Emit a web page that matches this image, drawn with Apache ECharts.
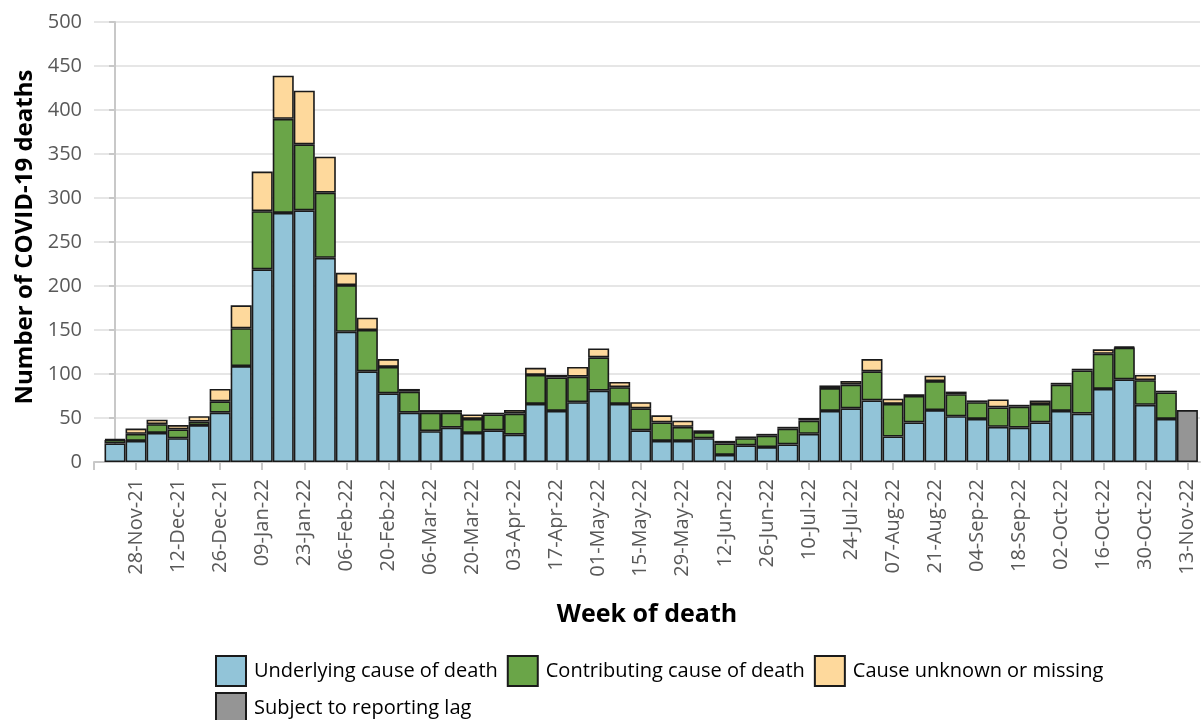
<!DOCTYPE html>
<html>
<head>
<meta charset="utf-8">
<script src="https://cdn.jsdelivr.net/npm/echarts@6/dist/echarts.min.js"></script>
<style>
html,body{margin:0;padding:0;background:#fff;}
#chart{width:1201px;height:720px;}
</style>
</head>
<body>
<div id="chart"></div>
<script>
var weeks = ['21-Nov-21','28-Nov-21','05-Dec-21','12-Dec-21','19-Dec-21','26-Dec-21','02-Jan-22','09-Jan-22','16-Jan-22','23-Jan-22','30-Jan-22','06-Feb-22','13-Feb-22','20-Feb-22','27-Feb-22','06-Mar-22','13-Mar-22','20-Mar-22','27-Mar-22','03-Apr-22','10-Apr-22','17-Apr-22','24-Apr-22','01-May-22','08-May-22','15-May-22','22-May-22','29-May-22','05-Jun-22','12-Jun-22','19-Jun-22','26-Jun-22','03-Jul-22','10-Jul-22','17-Jul-22','24-Jul-22','31-Jul-22','07-Aug-22','14-Aug-22','21-Aug-22','28-Aug-22','04-Sep-22','11-Sep-22','18-Sep-22','25-Sep-22','02-Oct-22','09-Oct-22','16-Oct-22','23-Oct-22','30-Oct-22','06-Nov-22','13-Nov-22'];

var underlying = [21,24,33,27,42,56,109,219,283,286,232,148,103,78,56,35,39,33,36,31,66,58,68,81,66,36,24,24,27,8,19,17,20,32,58,61,70,29,45,59,52,49,40,39,45,58,55,83,94,65,49,null];
var contributing = [4,8,10,10,4,13,43,66,107,75,74,53,47,30,24,21,17,16,18,24,33,38,29,38,19,25,21,16,7,13,8,13,18,15,26,27,33,37,30,33,25,19,22,24,21,30,49,40,36,28,30,null];
var unknown = [1,6,5,5,6,14,26,45,49,61,41,14,14,9,3,3,3,5,2,4,8,3,11,10,6,7,8,7,2,3,2,2,2,3,3,4,14,6,2,6,3,2,9,2,4,2,2,5,1,6,2,null];
var reportingLag = [null,null,null,null,null,null,null,null,null,null,null,null,null,null,null,null,null,null,null,null,null,null,null,null,null,null,null,null,null,null,null,null,null,null,null,null,null,null,null,null,null,null,null,null,null,null,null,null,null,null,null,59];

var yTicks = [0,50,100,150,200,250,300,350,400,450,500];

var seriesNames = ['Underlying cause of death','Contributing cause of death','Cause unknown or missing','Subject to reporting lag'];
var seriesColors = ['#92C4D8','#6AA548','#FED99C','#959595'];

// value first, week index second (so the value dimension is the one stacked)
function toPts(arr){ return arr.map(function(v,i){ return [v, i]; }); }

var chart = echarts.init(document.getElementById('chart'), null, {renderer:'canvas'});
var labelFont = '"Open Sans", "DejaVu Sans", sans-serif';

var series = [underlying, contributing, unknown, reportingLag].map(function(arr, k){
  return {
    name: seriesNames[k],
    type: 'bar',
    stack: 'total',
    barWidth: '100%',
    encode: {x: 1, y: 0},
    data: toPts(arr),
    itemStyle: {color: seriesColors[k], borderColor: '#1a1a1a', borderWidth: 1.6},
    emphasis: {disabled: true}
  };
});

var legendCommon = {
  orient: 'horizontal',
  icon: 'rect',
  padding: 0,
  itemWidth: 30,
  itemHeight: 30,
  itemGap: 9,
  textStyle: {fontFamily: labelFont, fontSize: 20, color: '#000', padding: [0,0,0,3]},
  selectedMode: false
};

chart.setOption({
  animation: false,
  backgroundColor: '#fff',
  grid: {left: 94, right: 1, top: 22, bottom: 258, containLabel: false},
  legend: [
    Object.assign({}, legendCommon, {left: 215, top: 655, data: seriesNames.slice(0,3)}),
    Object.assign({}, legendCommon, {left: 215, top: 692, data: seriesNames.slice(3)})
  ],
  xAxis: {
    type: 'value',
    min: -1,
    max: 51.6,
    interval: 2,
    name: 'Week of death',
    nameLocation: 'middle',
    nameGap: 140,
    nameTextStyle: {fontFamily: labelFont, fontWeight: 'bold', fontSize: 25, color: '#000'},
    axisLine: {show: true, lineStyle: {color: '#c8c8c8', width: 2}},
    axisTick: {show: true, length: 8, lineStyle: {color: '#c8c8c8', width: 2}},
    splitLine: {show: false},
    axisLabel: {
      rotate: 90,
      margin: 17,
      fontFamily: labelFont,
      fontSize: 20,
      color: '#595959',
      showMinLabel: true,
      showMaxLabel: false,
      formatter: function(v){ var i = Math.round(v); return (i >= 0 && i < weeks.length) ? weeks[i] : ''; }
    }
  },
  yAxis: {
    type: 'value',
    min: yTicks[0],
    max: yTicks[yTicks.length-1],
    interval: 50,
    name: 'Number of COVID-19 deaths',
    nameLocation: 'middle',
    nameGap: 56,
    nameTextStyle: {fontFamily: labelFont, fontWeight: 'bold', fontSize: 24, color: '#000', padding: [0,0,0,10]},
    axisLine: {show: true, lineStyle: {color: '#c8c8c8', width: 2}},
    axisTick: {show: true, length: 6, lineStyle: {color: '#c8c8c8', width: 2}},
    splitLine: {show: true, lineStyle: {color: '#e6e6e6', width: 2}},
    axisLabel: {margin: 12, fontFamily: labelFont, fontSize: 20, color: '#595959'}
  },
  series: series
});
</script>
</body>
</html>
